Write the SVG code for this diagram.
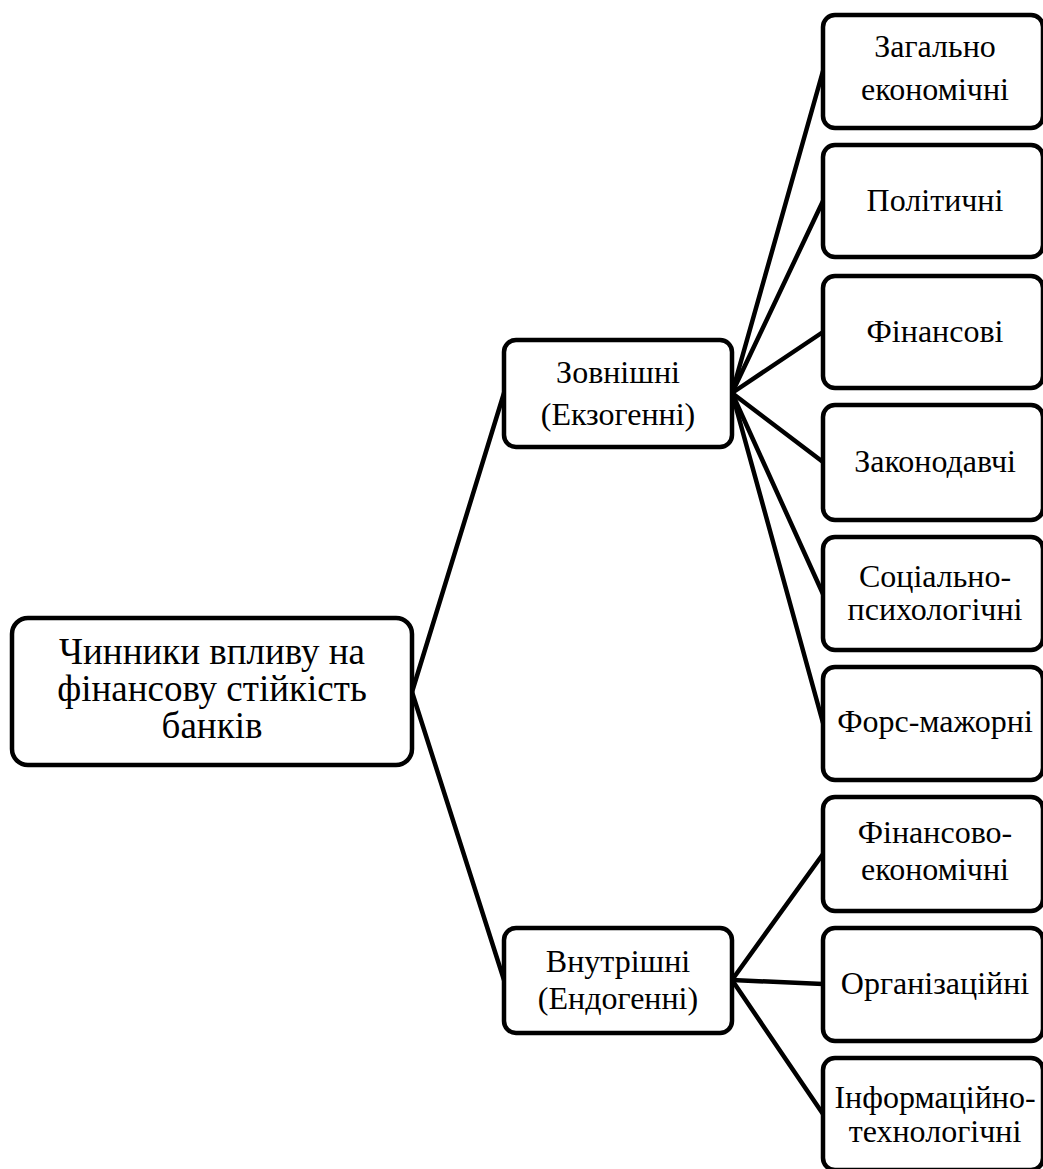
<svg xmlns="http://www.w3.org/2000/svg" width="1043" height="1169" viewBox="0 0 1043 1169">
<style>
.box{fill:#fff;stroke:#000;stroke-width:4.5}
.t{fill:#000;text-anchor:middle}
.r{font-size:37px}
.m{font-size:32px}
.c{stroke:#000;stroke-width:4.5;fill:none;stroke-linecap:round}
</style>
<rect width="1043" height="1169" fill="#fff"/>
<g id="connectors">
<line class="c" x1="412" y1="692" x2="504" y2="393"/>
<line class="c" x1="412" y1="692" x2="504" y2="980"/>
<line class="c" x1="732" y1="393" x2="823" y2="71"/>
<line class="c" x1="732" y1="393" x2="823" y2="201"/>
<line class="c" x1="732" y1="393" x2="823" y2="332"/>
<line class="c" x1="732" y1="393" x2="823" y2="462"/>
<line class="c" x1="732" y1="393" x2="823" y2="594"/>
<line class="c" x1="732" y1="393" x2="823" y2="723"/>
<line class="c" x1="732" y1="980" x2="823" y2="854"/>
<line class="c" x1="732" y1="980" x2="823" y2="984"/>
<line class="c" x1="732" y1="980" x2="823" y2="1114"/>
</g>
<g font-family="'Liberation Serif', 'Times New Roman', Tinos, 'Noto Serif', 'DejaVu Serif', FreeSerif, serif">
<g id="root">
<rect class="box" x="12" y="618" width="400" height="147" rx="16"/>
<text class="t r" x="212" y="664">Чинники впливу на</text>
<text class="t r" x="212" y="701">фінансову стійкість</text>
<text class="t r" x="212" y="738">банків</text>
</g>
<g id="external">
<rect class="box" x="504" y="340" width="228" height="107" rx="12"/>
<text class="t m" x="618" y="383">Зовнішні</text>
<text class="t m" x="618" y="425">(Екзогенні)</text>
</g>
<g id="internal">
<rect class="box" x="504" y="928" width="228" height="105" rx="12"/>
<text class="t m" x="618" y="972">Внутрішні</text>
<text class="t m" x="618" y="1009">(Ендогенні)</text>
</g>
<g id="n1">
<rect class="box" x="823" y="15" width="220" height="113" rx="12"/>
<text class="t m" x="935" y="57">Загально</text>
<text class="t m" x="935" y="100">економічні</text>
</g>
<g id="n2">
<rect class="box" x="823" y="145" width="220" height="112" rx="12"/>
<text class="t m" x="935" y="211">Політичні</text>
</g>
<g id="n3">
<rect class="box" x="823" y="276" width="220" height="112" rx="12"/>
<text class="t m" x="935" y="342">Фінансові</text>
</g>
<g id="n4">
<rect class="box" x="823" y="405" width="220" height="115" rx="12"/>
<text class="t m" x="935" y="472">Законодавчі</text>
</g>
<g id="n5">
<rect class="box" x="823" y="537" width="220" height="113" rx="12"/>
<text class="t m" x="935" y="587">Соціально-</text>
<text class="t m" x="935" y="620">психологічні</text>
</g>
<g id="n6">
<rect class="box" x="823" y="667" width="220" height="113" rx="12"/>
<text class="t m" x="935" y="732">Форс-мажорні</text>
</g>
<g id="n7">
<rect class="box" x="823" y="797" width="220" height="114" rx="12"/>
<text class="t m" x="935" y="843">Фінансово-</text>
<text class="t m" x="935" y="880">економічні</text>
</g>
<g id="n8">
<rect class="box" x="823" y="928" width="220" height="113" rx="12"/>
<text class="t m" x="935" y="994">Організаційні</text>
</g>
<g id="n9">
<rect class="box" x="823" y="1058" width="220" height="112" rx="12"/>
<text class="t m" x="935" y="1108">Інформаційно-</text>
<text class="t m" x="935" y="1142">технологічні</text>
</g>
</g>
</svg>
